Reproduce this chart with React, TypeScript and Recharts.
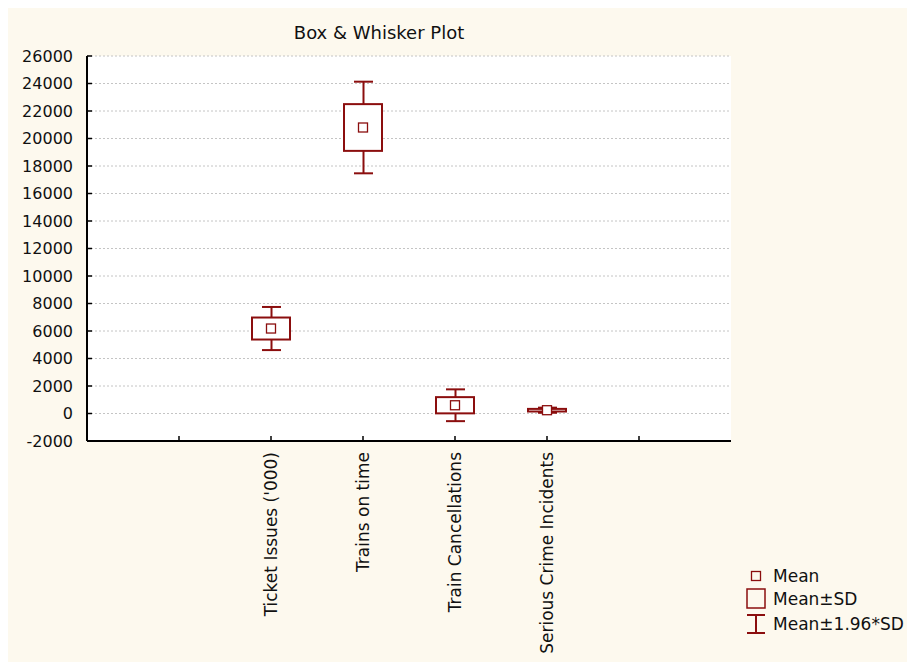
import React from 'react';
import { ComposedChart, Bar, Scatter, XAxis, YAxis, CartesianGrid } from 'recharts';

const categories = ["Ticket Issues ('000)", 'Trains on time', 'Train Cancellations', 'Serious Crime Incidents'];
const means = [6180, 20800, 600, 240];
const sds = [800, 1700, 590, 95];
const yTicks = [-2000, 0, 2000, 4000, 6000, 8000, 10000, 12000, 14000, 16000, 18000, 20000, 22000, 24000, 26000];

const RED = '#8b0e0e';
const INK = '#111';
const FONT = '"DejaVu Sans", Verdana, sans-serif';

// empty slot each side so the ticks fall where the original has them
const blank = (name: string) => ({ name, mean: null, box: null, whisker: null });
const rows = [
  blank('padL'),
  ...categories.map((name, i) => ({
    name,
    mean: means[i],
    box: [means[i] - sds[i], means[i] + sds[i]],
    whisker: [means[i] - 1.96 * sds[i], means[i] + 1.96 * sds[i]],
  })),
  blank('padR'),
];

const span = (y: number, height: number) => (height < 0 ? [y + height, -height] : [y, height]);

const BoxShape = (p: any) => {
  if (!p.payload || p.payload.box == null) return <g />;
  const [top, h] = span(p.y, p.height);
  return <rect x={p.x} y={top} width={p.width} height={Math.max(h, 1)} fill="#fff" stroke={RED} strokeWidth={2} />;
};

const WhiskerShape = (p: any) => {
  if (!p.payload || p.payload.whisker == null) return <g />;
  const [top, h] = span(p.y, p.height);
  const cx = p.x + p.width / 2;
  return (
    <g stroke={RED} strokeWidth={2}>
      <line x1={cx} y1={top} x2={cx} y2={top + h} />
      <line x1={p.x} y1={top} x2={p.x + p.width} y2={top} />
      <line x1={p.x} y1={top + h} x2={p.x + p.width} y2={top + h} />
    </g>
  );
};

const MeanShape = (p: any) => {
  if (p.cy == null || isNaN(p.cy) || p.payload?.mean == null) return <g />;
  return <rect x={p.cx - 4.5} y={p.cy - 4.5} width={9} height={9} fill="#fff" stroke={RED} strokeWidth={1.3} />;
};

const BottomTick = ({ x, y, payload }: any) => (
  <g>
    <line x1={x} y1={y} x2={x} y2={y - 5} stroke="#000" strokeWidth={1.5} />
    {categories.includes(payload.value) && (
      <text
        x={x}
        y={y + 11}
        transform={`rotate(-90 ${x} ${y + 11})`}
        textAnchor="end"
        dy="0.35em"
        fontFamily={FONT}
        fontSize={17}
        fill={INK}
      >
        {payload.value}
      </text>
    )}
  </g>
);

const TopTick = ({ x, y }: any) => <line x1={x} y1={y} x2={x} y2={y + 5} stroke="#000" strokeWidth={1.5} />;

const LeftTick = ({ x, y, payload }: any) => (
  <g>
    <line x1={x} y1={y} x2={x + 5} y2={y} stroke="#000" strokeWidth={1.5} />
    <text x={x - 14} y={y} dy="0.36em" textAnchor="end" fontFamily={FONT} fontSize={16} fill={INK}>
      {payload.value}
    </text>
  </g>
);

const RightTick = ({ x, y }: any) => <line x1={x} y1={y} x2={x - 5} y2={y} stroke="#000" strokeWidth={1.5} />;

const axisLine = { stroke: '#000', strokeWidth: 2 };
const pad = { left: 46, right: 46 };

function LegendBox() {
  const txt = { fontFamily: FONT, fontSize: 17, fill: INK };
  return (
    <svg width={165} height={90} style={{ position: 'absolute', left: 736, top: 550 }}>
      <g transform="translate(0,10)">
        <rect x={7.5} y={3.5} width={9} height={9} fill="none" stroke={RED} strokeWidth={1.3} />
        <text x={29} y={8} dy="0.36em" {...txt}>Mean</text>
        <rect x={3} y={21} width={18} height={19} fill="none" stroke={RED} strokeWidth={1.5} />
        <text x={29} y={31} dy="0.36em" {...txt}>Mean±SD</text>
        <g stroke={RED} strokeWidth={2}>
          <line x1={12} y1={47} x2={12} y2={65} />
          <line x1={3} y1={47} x2={21} y2={47} />
          <line x1={3} y1={65} x2={21} y2={65} />
        </g>
        <text x={29} y={56} dy="0.36em" {...txt}>Mean±1.96*SD</text>
      </g>
    </svg>
  );
}

export default function App() {
  return (
    <div style={{ position: 'relative', width: 907, height: 654, background: '#fdf9ee' }}>
      <div
        style={{
          position: 'absolute',
          left: 0,
          top: 15,
          width: 742,
          textAlign: 'center',
          fontFamily: FONT,
          fontSize: 18,
          lineHeight: '20px',
          color: INK,
        }}
      >
        Box &amp; Whisker Plot
      </div>
      <ComposedChart width={907} height={654} data={rows} margin={{ top: 48, right: 184, bottom: 0, left: 0 }}>
        <CartesianGrid vertical={false} stroke="#c4c4c4" strokeDasharray="2 2" fill="#fff" />
        <XAxis
          dataKey="name"
          padding={pad}
          height={221}
          interval={0}
          tickSize={0}
          tickMargin={0}
          tickLine={false}
          axisLine={axisLine}
          tick={BottomTick}
        />
        <XAxis
          xAxisId="top"
          orientation="top"
          dataKey="name"
          padding={pad}
          height={0}
          interval={0}
          tickSize={0}
          tickMargin={0}
          tickLine={false}
          axisLine={axisLine}
          tick={TopTick}
        />
        <YAxis
          type="number"
          domain={[-2000, 26000]}
          ticks={yTicks}
          width={79}
          interval={0}
          tickSize={0}
          tickMargin={0}
          tickLine={false}
          axisLine={axisLine}
          tick={LeftTick}
        />
        <YAxis
          yAxisId="r"
          orientation="right"
          type="number"
          domain={[-2000, 26000]}
          ticks={yTicks}
          width={0}
          interval={0}
          tickSize={0}
          tickMargin={0}
          tickLine={false}
          axisLine={axisLine}
          tick={RightTick}
        />
        <Bar xAxisId="top" dataKey="whisker" barSize={19} shape={WhiskerShape} isAnimationActive={false} />
        <Bar dataKey="box" barSize={38} shape={BoxShape} isAnimationActive={false} />
        <Scatter yAxisId="r" dataKey="mean" shape={MeanShape} isAnimationActive={false} />
      </ComposedChart>
      <LegendBox />
    </div>
  );
}
